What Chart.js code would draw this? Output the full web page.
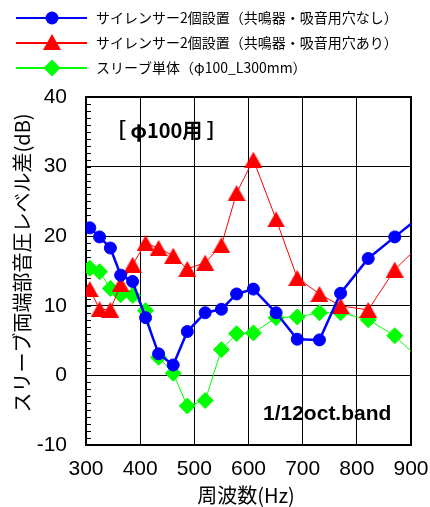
<!DOCTYPE html>
<html lang="ja">
<head>
<meta charset="utf-8">
<title>スリーブ両端部音圧レベル差</title>
<script src="https://cdn.jsdelivr.net/npm/chart.js@4/dist/chart.umd.min.js"></script>
<style>
  html, body { margin: 0; padding: 0; background: #fff; }
  #wrap { width: 430px; height: 507px; }
</style>
</head>
<body>
<div id="wrap"><canvas id="chart" width="430" height="507"></canvas></div>
<script>
// 1/12 octave band centre frequencies (Hz)
const freqHz = [307, 325, 345, 364, 386, 410, 434, 461, 487, 520, 550, 578, 609, 651, 690, 731, 770, 821, 870, 920];

// Level difference between both sleeve ends (dB)
const silencerNoHoles   = [21.2, 19.9, 18.3, 14.4, 13.5, 8.3, 3.1, 1.5, 6.3, 9.0, 9.5, 11.7, 12.4, 9.0, 5.2, 5.1, 11.8, 16.8, 19.9, 23.0];
const silencerWithHoles = [12.4, 9.5, 9.4, 13.1, 15.9, 19.0, 18.3, 17.2, 15.3, 16.2, 18.7, 26.2, 31.0, 22.4, 14.0, 11.7, 10.0, 9.4, 15.2, 19.0];
const sleeveOnly        = [15.4, 14.9, 12.5, 11.6, 11.5, 9.3, 2.6, 0.3, -4.4, -3.6, 3.7, 6.0, 6.1, 8.3, 8.4, 9.0, 9.0, 8.0, 5.7, 2.0];

const seriesLabels = [
  'サイレンサー2個設置（共鳴器・吸音用穴なし）',
  'サイレンサー2個設置（共鳴器・吸音用穴あり）',
  'スリーブ単体（φ100_L300mm）'
];

const xRange = { min: 300, max: 900, step: 100 };
const yRange = { min: -10, max: 40, step: 10 };

const xTitle = '周波数(Hz)';
const yTitle = 'スリーブ両端部音圧レベル差(dB)';
const boxLabel = '［ φ100用 ］';
const bandLabel = '1/12oct.band';

const BLUE = '#0000ff', RED = '#ff0000', GREEN = '#00ff00';
const JP = '"Noto Sans CJK JP", "Noto Sans", sans-serif';
const LAT = '"Liberation Sans", Arial, sans-serif';

// triangle marker centred on its bounding box
function triangleMarker(w, h, color) {
  const c = document.createElement('canvas');
  c.width = w; c.height = h;
  const g = c.getContext('2d');
  g.fillStyle = color;
  g.beginPath();
  g.moveTo(w / 2, 0);
  g.lineTo(w, h);
  g.lineTo(0, h);
  g.closePath();
  g.fill();
  return c;
}
const redTriangle = triangleMarker(18, 16, RED);

const toPoints = vals => freqHz.map((f, i) => ({ x: f, y: vals[i] }));

const styles = [
  { color: BLUE,  line: 2.5, pointStyle: 'circle',  radius: 6,  data: silencerNoHoles },
  { color: RED,   line: 1,   pointStyle: redTriangle, radius: 8, data: silencerWithHoles },
  { color: GREEN, line: 1,   pointStyle: 'rectRot', radius: 8,  data: sleeveOnly }
];

// legend, frame, minor ticks, titles and in-plot labels
const decorations = {
  id: 'decorations',
  beforeDatasetsDraw(chart) {
    const { ctx, chartArea: a, scales: { y } } = chart;
    ctx.save();
    // minor ticks every 1 dB on the left axis, pointing inwards
    ctx.strokeStyle = '#000';
    ctx.lineWidth = 1;
    ctx.beginPath();
    for (let v = yRange.min; v <= yRange.max; v += 1) {
      const py = Math.round(y.getPixelForValue(v)) + 0.5;
      ctx.moveTo(a.left, py);
      ctx.lineTo(a.left + 5, py);
    }
    ctx.stroke();
    // plot frame
    ctx.lineWidth = 2;
    ctx.strokeRect(a.left, a.top, a.right - a.left, a.bottom - a.top);
    // labels inside the plot
    ctx.fillStyle = '#000';
    ctx.textBaseline = 'middle';
    ctx.textAlign = 'left';
    ctx.font = 'bold 20px ' + JP;
    ctx.fillText(boxLabel, 106, 130);
    ctx.font = 'bold 21px ' + LAT;
    ctx.fillText(bandLabel, 263, 414);
    ctx.restore();
  },
  afterDraw(chart) {
    const { ctx } = chart;
    ctx.save();
    // axis titles
    ctx.fillStyle = '#000';
    ctx.textBaseline = 'middle';
    ctx.textAlign = 'center';
    ctx.font = '20px ' + JP;
    ctx.fillText(xTitle, 246, 495);
    ctx.translate(22, 263);
    ctx.rotate(-Math.PI / 2);
    ctx.font = '20px ' + JP;
    ctx.fillText(yTitle, 0, 0);
    ctx.restore();

    // legend
    ctx.save();
    const rows = [18, 43, 68];
    chart.data.datasets.forEach((ds, i) => {
      const yy = rows[i];
      ctx.strokeStyle = ds.borderColor;
      ctx.lineWidth = 2;
      ctx.beginPath();
      ctx.moveTo(16, yy);
      ctx.lineTo(87, yy);
      ctx.stroke();
      ctx.fillStyle = ds.borderColor;
      if (i === 0) {
        ctx.beginPath();
        ctx.arc(52, yy, 6.5, 0, Math.PI * 2);
        ctx.fill();
      } else if (i === 1) {
        ctx.drawImage(redTriangle, 52 - redTriangle.width / 2, yy - redTriangle.height / 2 - 1);
      } else {
        ctx.beginPath();
        ctx.moveTo(52, yy - 8.5);
        ctx.lineTo(60.5, yy);
        ctx.lineTo(52, yy + 8.5);
        ctx.lineTo(43.5, yy);
        ctx.closePath();
        ctx.fill();
      }
      ctx.fillStyle = '#000';
      ctx.font = '14px ' + JP;
      ctx.textAlign = 'left';
      ctx.textBaseline = 'middle';
      ctx.fillText(ds.label, 96, yy);
    });
    ctx.restore();
  }
};

new Chart(document.getElementById('chart'), {
  type: 'line',
  data: {
    datasets: styles.map((s, i) => ({
      label: seriesLabels[i],
      data: toPoints(s.data),
      borderColor: s.color,
      backgroundColor: s.color,
      borderWidth: s.line,
      pointStyle: s.pointStyle,
      pointRadius: s.radius,
      pointBorderWidth: 1,
      pointBorderColor: s.color,
      pointBackgroundColor: s.color,
      tension: 0,
      clip: 0
    }))
  },
  options: {
    responsive: false,
    animation: false,
    events: [],
    layout: { padding: { top: 97, right: 19, bottom: 0, left: 0 } },
    plugins: { legend: { display: false }, tooltip: { enabled: false } },
    scales: {
      x: {
        type: 'linear',
        min: xRange.min, max: xRange.max,
        afterFit(scale) { scale.height = 62; scale.paddingLeft = 0; scale.paddingRight = 0; },
        ticks: { stepSize: xRange.step, color: '#000', padding: 12, font: { family: LAT, size: 21 } },
        grid: { color: '#000', lineWidth: 1, drawTicks: false },
        border: { display: false }
      },
      y: {
        type: 'linear',
        min: yRange.min, max: yRange.max,
        afterFit(scale) { scale.width = 86; scale.paddingTop = 0; scale.paddingBottom = 0; },
        ticks: { stepSize: yRange.step, color: '#000', padding: 19, font: { family: LAT, size: 21 } },
        grid: { color: '#000', lineWidth: 1, drawTicks: false },
        border: { display: false }
      }
    }
  },
  plugins: [decorations]
});
</script>
</body>
</html>
